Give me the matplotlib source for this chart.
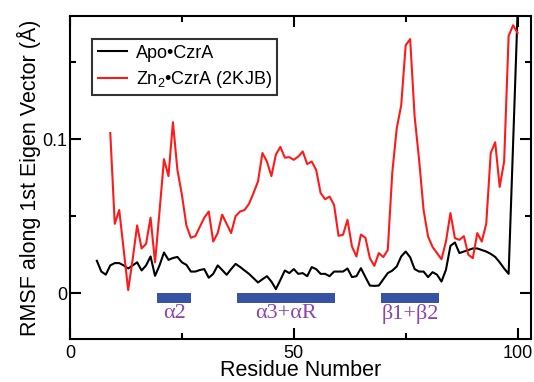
import matplotlib
matplotlib.use("Agg")
import matplotlib.pyplot as plt
from matplotlib.ticker import MultipleLocator

# ---- data ----
apo_res = list(range(6, 101))
apo_rmsf = [0.021, 0.014, 0.012, 0.018, 0.0195, 0.0195, 0.018, 0.016, 0.018, 0.020,
            0.0147, 0.018, 0.0238, 0.0112, 0.018, 0.0264, 0.0216, 0.0228, 0.0235, 0.020,
            0.0184, 0.014, 0.014, 0.015, 0.0156, 0.010, 0.0125, 0.018, 0.015, 0.0119,
            0.0156, 0.019, 0.017, 0.0147, 0.0125, 0.0097, 0.0069, 0.009, 0.011, 0.0075,
            0.0026, 0.0085, 0.0147, 0.013, 0.0156, 0.0125, 0.013, 0.011, 0.0169, 0.0156,
            0.0125, 0.0125, 0.011, 0.014, 0.014, 0.014, 0.016, 0.0104, 0.011, 0.0162,
            0.0104, 0.0049, 0.0047, 0.0049, 0.009, 0.013, 0.0146, 0.0173, 0.0238, 0.027,
            0.0233, 0.0156, 0.014, 0.014, 0.0104, 0.0136, 0.012, 0.0075, 0.0152, 0.0307,
            0.0329, 0.026, 0.027, 0.028, 0.029, 0.029, 0.028, 0.027, 0.0255, 0.0235,
            0.020, 0.016, 0.0125, 0.097, 0.182]

zn_res = list(range(9, 101))
zn_rmsf = [0.104, 0.045, 0.054, 0.028, 0.002, 0.022, 0.044, 0.029, 0.032, 0.049,
           0.020, 0.053, 0.087, 0.076, 0.111, 0.080, 0.064, 0.044, 0.036, 0.037,
           0.043, 0.049, 0.053, 0.0335, 0.039, 0.051, 0.045, 0.039, 0.050, 0.053,
           0.054, 0.058, 0.065, 0.0725, 0.091, 0.0855, 0.076, 0.090, 0.095, 0.088,
           0.0883, 0.0866, 0.0887, 0.092, 0.0838, 0.0855, 0.080, 0.065, 0.061, 0.0627,
           0.0573, 0.0372, 0.0379, 0.0476, 0.0303, 0.0238, 0.038, 0.036, 0.0227, 0.0177,
           0.026, 0.0234, 0.028, 0.078, 0.107, 0.122, 0.161, 0.165, 0.1147, 0.0866,
           0.054, 0.0368, 0.030, 0.026, 0.022, 0.0335, 0.052, 0.0357, 0.0346, 0.037,
           0.0249, 0.0227, 0.039, 0.0335, 0.045, 0.091, 0.098, 0.069, 0.0855, 0.167,
           0.174, 0.169]

ss_labels = ["\u03b12", "\u03b13+\u03b1R", "\u03b21+\u03b22"]
ss_start = [19.5, 37.3, 69.5]
ss_end = [27.0, 59.1, 82.5]

series_labels = ["Apo\u2022CzrA", "Zn$_2$\u2022CzrA (2KJB)"]
x_ticks = [0, 50, 100]
y_ticks = [0, 0.1]

# ---- style ----
plt.rcParams['font.family'] = ['Liberation Sans', 'DejaVu Sans']
plt.rcParams['mathtext.fontset'] = 'custom'
plt.rcParams['mathtext.rm'] = 'Liberation Sans'
plt.rcParams['mathtext.it'] = 'Liberation Sans'

fig = plt.figure(figsize=(5.34, 3.82), dpi=100)
ax = fig.add_axes([70/534, (382-339.3)/382, (531-70)/534, (339.3-16)/382])

ax.plot(apo_res, apo_rmsf, color='black', lw=1.5, label=series_labels[0])
ax.plot(zn_res, zn_rmsf, color='#ff1a1a', lw=1.5, label=series_labels[1])

bar_h = 0.0065
ax.barh([-bar_h/2]*len(ss_start), [e - s for s, e in zip(ss_start, ss_end)],
        left=ss_start, height=bar_h, color='#3953a4')
for lab, s, e in zip(ss_labels, ss_start, ss_end):
    ax.text((s + e)/2, -0.0135, lab, ha='center', va='center', color='#8e44ad',
            fontsize=16, family=['Liberation Serif', 'DejaVu Serif'])

ax.set_xlim(0, 103)
ax.set_ylim(-0.03, 0.18)
ax.set_xticks(x_ticks)
ax.set_yticks(y_ticks)
ax.set_yticklabels([f"{v:g}" for v in y_ticks])
ax.xaxis.set_minor_locator(MultipleLocator(25))
ax.yaxis.set_minor_locator(MultipleLocator(0.05))
ax.tick_params(which='both', direction='in', top=True, right=True, width=1.5,
               labelsize=13)
ax.tick_params(axis='x', which='both', pad=4)
ax.tick_params(axis='y', which='both', pad=2)
ax.tick_params(which='major', length=8)
ax.tick_params(which='minor', length=4.5)
for sp in ax.spines.values():
    sp.set_linewidth(1.5)

ax.set_xlabel("Residue Number", fontsize=15.5, labelpad=-1)
ax.set_ylabel("RMSF along 1st Eigen Vector (\u00c5)", fontsize=15.5, labelpad=1)

leg = ax.legend(loc='upper left', bbox_to_anchor=(22.3/461, 1 - 23.3/323.3),
                fontsize=13, frameon=True, fancybox=False, edgecolor='black',
                handlelength=1.6, handletextpad=0.5, borderpad=0.3,
                labelspacing=0.4, borderaxespad=0)
leg.get_frame().set_linewidth(1.5)

fig.savefig("out.png", dpi=100)
